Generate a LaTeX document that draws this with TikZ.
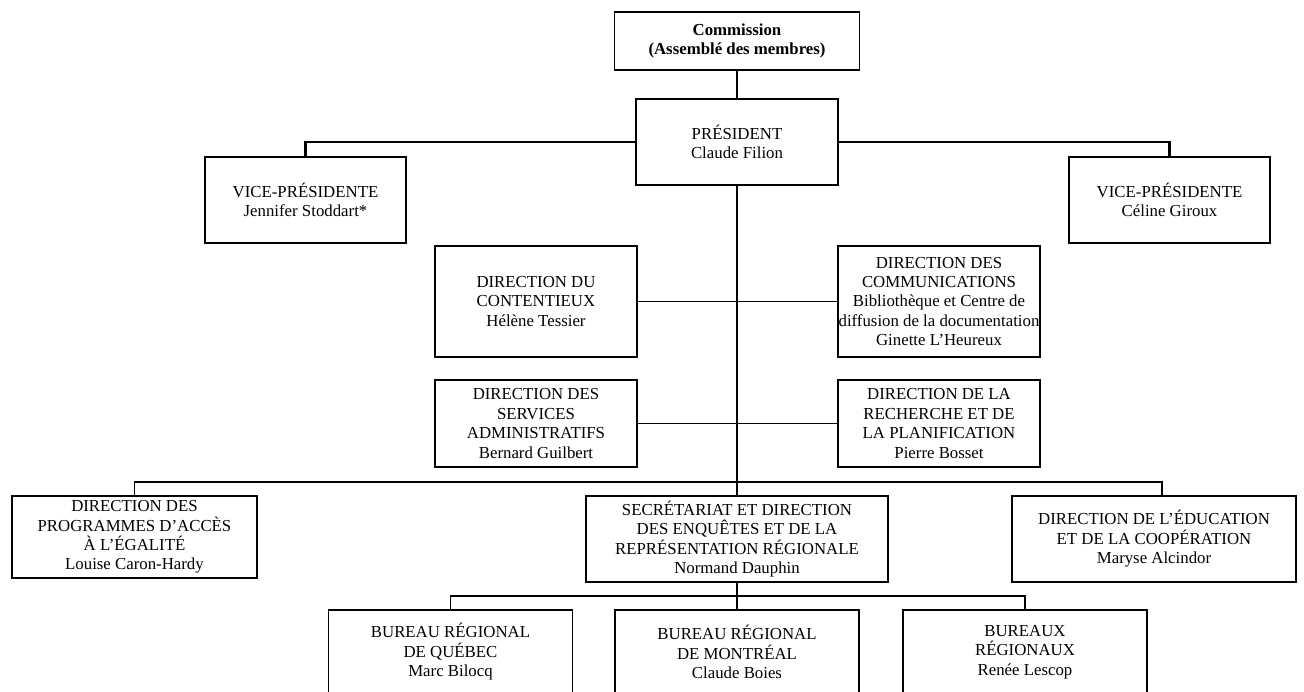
\documentclass[tikz,border=0pt]{standalone}
\usepackage{fontspec}
\setmainfont{Liberation Serif}
\begin{document}
\begin{tikzpicture}[
        x=0.75pt, y=-0.75pt,
        box/.style={draw, rectangle, line width=1pt, align=center, inner xsep=0pt, inner ysep=1pt,
            font=\fontsize{12.6}{14.6}\selectfont},
        boxsize/.style 2 args={minimum width=#1*0.75pt, minimum height=#2*0.75pt},
        link/.style={draw, line width=0.8pt},
        mainlink/.style={draw, line width=2.2pt},
    ]
    \useasboundingbox (0,0) rectangle (1304,692);
    \clip (0,0) rectangle (1304,692);

    \node[box, boxsize={245}{58}, font=\fontsize{12.6}{14.6}\selectfont\bfseries](comm) at (737,41)
        {Commission\\(Assemblé des membres)};
    \node[box, boxsize={202}{86}](pres) at (737,142) {PRÉSIDENT\\Claude Filion};
    \node[box, boxsize={201}{86}](vpleft) at (305.5,200) {VICE-PRÉSIDENTE\\Jennifer Stoddart*};
    \node[box, boxsize={201}{86}](vpright) at (1169.5,200) {VICE-PRÉSIDENTE\\Céline Giroux};

    \node[box, boxsize={202}{111}](contentieux) at (536,301.5)
        {DIRECTION DU\\CONTENTIEUX\\Hélène Tessier};
    \node[box, boxsize={202}{111}](communic) at (939,301.5)
        {DIRECTION DES\\COMMUNICATIONS\\Bibliothèque et Centre de\\diffusion de la documentation\\Ginette L’Heureux};
    \node[box, boxsize={202}{87}](services) at (536,423.5)
        {DIRECTION DES\\SERVICES\\ADMINISTRATIFS\\Bernard Guilbert};
    \node[box, boxsize={202}{87}](recherche) at (939,423.5)
        {DIRECTION DE LA\\RECHERCHE ET DE\\LA PLANIFICATION\\Pierre Bosset};

    \node[box, boxsize={245}{82}](programmes) at (134.5,537)
        {DIRECTION DES\\PROGRAMMES D’ACCÈS\\À L’ÉGALITÉ\\Louise Caron-Hardy};
    \node[box, boxsize={302}{86}](secretariat) at (737,539)
        {SECRÉTARIAT ET DIRECTION\\DES ENQUÊTES ET DE LA\\REPRÉSENTATION RÉGIONALE\\Normand Dauphin};
    \node[box, boxsize={284}{86}](education) at (1154,539)
        {DIRECTION DE L’ÉDUCATION\\ET DE LA COOPÉRATION\\Maryse Alcindor};

    \node[box, boxsize={244}{84}](quebec) at (450.5,652)
        {BUREAU RÉGIONAL\\DE QUÉBEC\\Marc Bilocq};
    \node[box, boxsize={244}{84}](montreal) at (737,652)
        {BUREAU RÉGIONAL\\DE MONTRÉAL\\Claude Boies};
    \node[box, boxsize={244}{84}](regionaux) at (1025,652)
        {BUREAUX\\RÉGIONAUX\\Renée Lescop};

    \draw[mainlink] (comm.south) -- (pres.north);
    \draw[mainlink] (pres.west) -| (vpleft.north);
    \draw[mainlink] (pres.east) -| (vpright.north);

    \draw[link] (pres.south) -- (secretariat.north);
    \draw[link] (contentieux.east) -- (communic.west);
    \draw[link] (services.east) -- (recherche.west);

    \coordinate (edtop) at (1162,482);
    \draw[link] (programmes.north) |- (edtop) -- (edtop |- education.north);

    \coordinate (bursplit) at (737,596);
    \draw[link] (secretariat.south) -- (bursplit);
    \draw[link] (quebec.north) |- (bursplit) -| (regionaux.north);
    \draw[link] (bursplit) -- (montreal.north);
\end{tikzpicture}
\end{document}
